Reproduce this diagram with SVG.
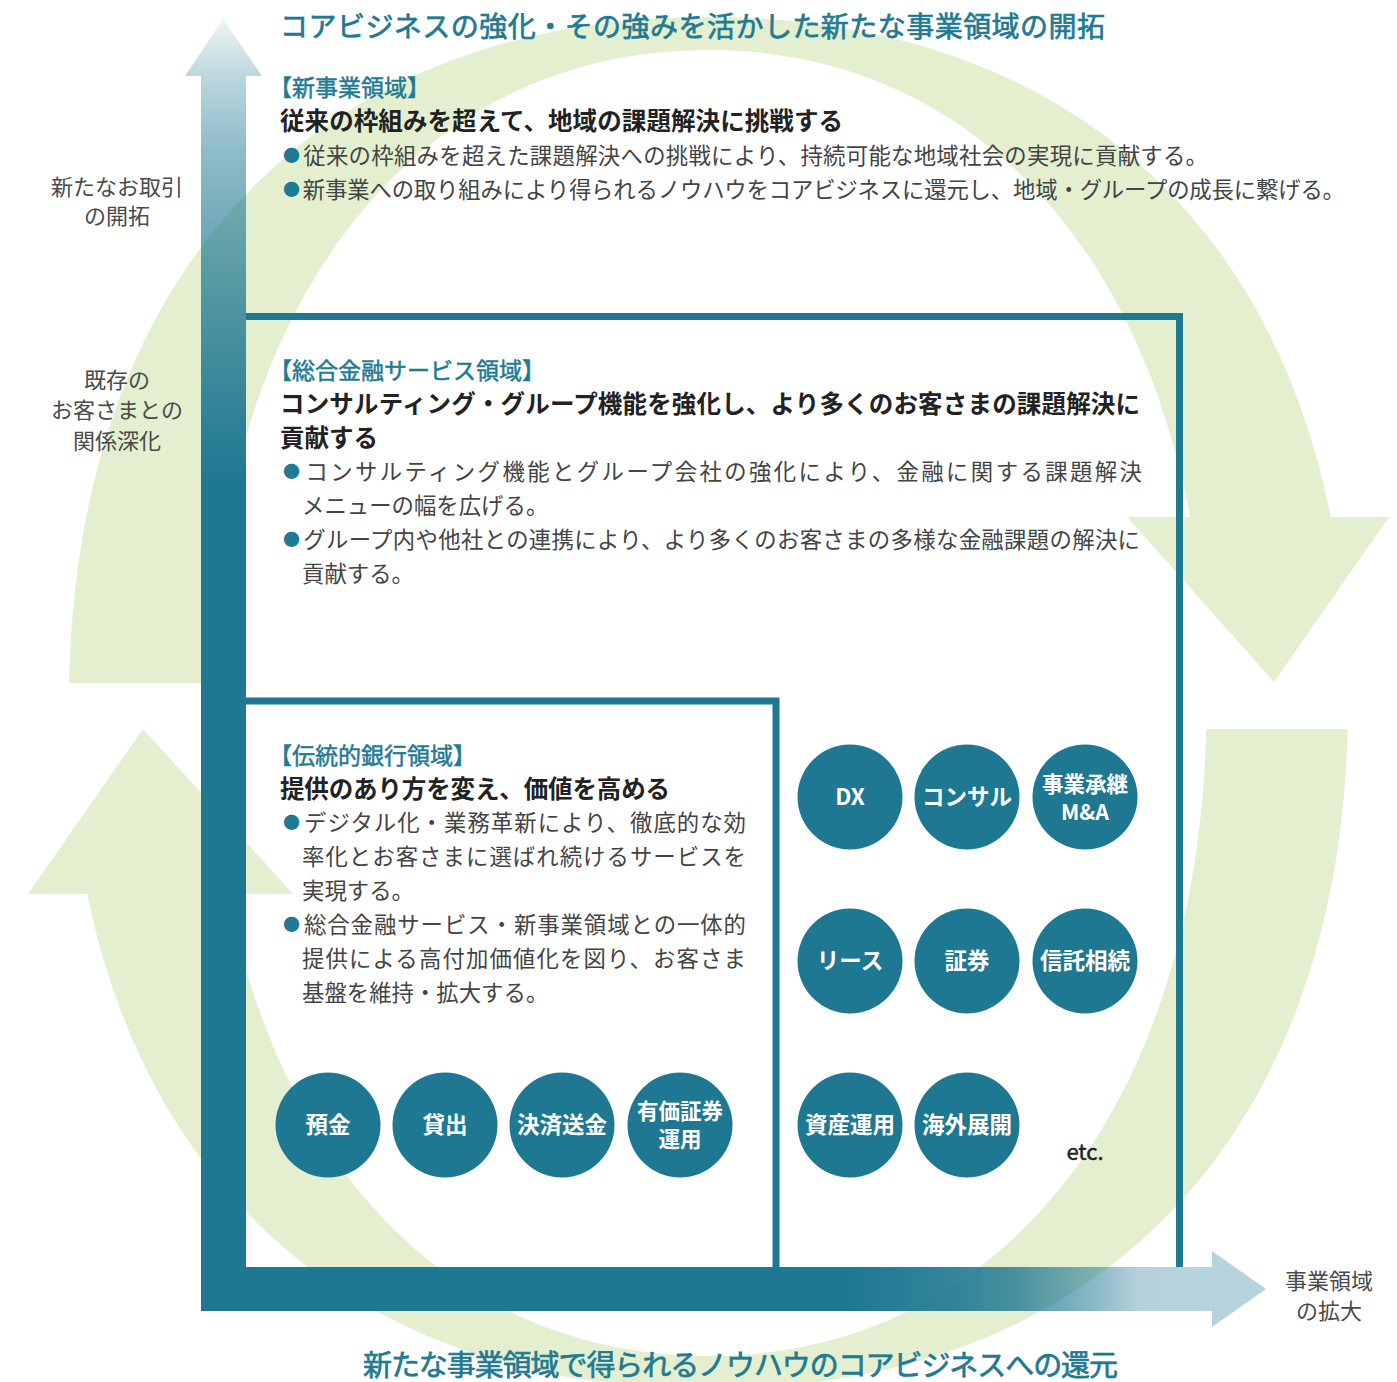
<svg xmlns="http://www.w3.org/2000/svg" width="1397" height="1382" viewBox="0 0 1397 1382">
<defs>
<style>
.t{font-family:"Noto Sans CJK JP","Noto Sans",sans-serif}
.body{font-size:22.4px;fill:#444}
.head{font-size:24.5px;font-weight:700;fill:#222}
.sec{font-size:23px;fill:#1f7a93;stroke:#1f7a93;stroke-width:0.5}
.ttl{fill:#1f7a93;stroke:#1f7a93;stroke-width:0.7}
.bul{fill:#1f7a93;font-size:17px}
.lab{font-size:22px;fill:#4a4a4a;text-anchor:middle}
.cl{font-size:22.5px;font-weight:700;fill:#fff;text-anchor:middle}
.cl2{font-size:21.5px;font-weight:700;fill:#fff;text-anchor:middle}
.node circle{fill:#1f7892}
.green{fill:#e3efcf}
.frame{fill:none;stroke:#1f7892;stroke-width:7}
</style>
<clipPath id="clipTop"><polygon points="0,0 1397,0 1397,517 708,517 708,683 0,683"/></clipPath>
<clipPath id="clipBot"><polygon points="0,894 708,894 708,729 1397,729 1397,1382 0,1382"/></clipPath>
<path id="ring" fill-rule="evenodd" d="M1348,703 C1348,1128.3 1105,1389 708.5,1389 C312,1389 69,1128.3 69,703 C69,277.7 312,17 708.5,17 C1105,17 1348,277.7 1348,703 Z M1206.5,703 C1206.5,1094.8 1007.3,1356 708.5,1356 C409.7,1356 210.5,1094.8 210.5,703 C210.5,311.2 409.7,50 708.5,50 C1007.3,50 1206.5,311.2 1206.5,703 Z"/>
<linearGradient id="gv" gradientUnits="userSpaceOnUse" x1="0" y1="19" x2="0" y2="480">
<stop offset="0" stop-color="#1f7892" stop-opacity="0.08"/>
<stop offset="0.124" stop-color="#1f7892" stop-opacity="0.3"/>
<stop offset="0.284" stop-color="#1f7892" stop-opacity="0.5"/>
<stop offset="0.61" stop-color="#1f7892" stop-opacity="0.75"/>
<stop offset="1" stop-color="#1f7892" stop-opacity="1"/>
</linearGradient>
<linearGradient id="gh" gradientUnits="userSpaceOnUse" x1="246" y1="0" x2="1266" y2="0">
<stop offset="0" stop-color="#1f7892" stop-opacity="1"/>
<stop offset="0.592" stop-color="#1f7892" stop-opacity="1"/>
<stop offset="0.7" stop-color="#1f7892" stop-opacity="0.9"/>
<stop offset="0.752" stop-color="#1f7892" stop-opacity="0.8"/>
<stop offset="0.837" stop-color="#1f7892" stop-opacity="0.5"/>
<stop offset="0.876" stop-color="#1f7892" stop-opacity="0.33"/>
<stop offset="1" stop-color="#1f7892" stop-opacity="0.32"/>
</linearGradient>
</defs>
<rect width="1397" height="1382" fill="#fff"/>

<g id="connectors">
  <g id="cycle-top" class="green">
    <use href="#ring" clip-path="url(#clipTop)"/>
    <polygon points="1127,517 1389,517 1274,682"/>
  </g>
  <g id="cycle-bottom" class="green">
    <use href="#ring" clip-path="url(#clipBot)"/>
    <polygon points="28,894 293,894 143,729"/>
  </g>
  <g id="axis-vertical">
    <polygon fill="url(#gv)" points="201,1311 201,76 185,76 223,19 262,76 246,76 246,1311"/>
  </g>
  <g id="axis-horizontal">
    <polygon fill="url(#gh)" points="246,1267 1212,1267 1212,1251 1266,1289 1212,1327 1212,1311 246,1311"/>
  </g>
</g>

<g id="frame-financial"><path class="frame" d="M246,316.5 H1179.5 V1267"/></g>
<g id="frame-traditional"><path class="frame" d="M246,701 H776 V1267"/></g>

<g id="title-top" class="t">
  <text class="ttl" x="280" y="36.6" font-size="28" textLength="825" lengthAdjust="spacing">コアビジネスの強化・その強みを活かした新たな事業領域の開拓</text>
</g>
<g id="title-bottom" class="t">
  <text class="ttl" x="363" y="1376" font-size="29" textLength="755" lengthAdjust="spacing">新たな事業領域で得られるノウハウのコアビジネスへの還元</text>
</g>

<g id="label-new-customers" class="t">
  <text class="lab" x="117" y="195.4">新たなお取引</text>
  <text class="lab" x="117" y="224.4">の開拓</text>
</g>
<g id="label-existing" class="t">
  <text class="lab" x="117" y="388.4">既存の</text>
  <text class="lab" x="117" y="418.4">お客さまとの</text>
  <text class="lab" x="117" y="449.4">関係深化</text>
</g>
<g id="label-expand" class="t">
  <text class="lab" x="1329" y="1289.4">事業領域</text>
  <text class="lab" x="1329" y="1319.4">の拡大</text>
</g>

<g id="new-business" class="t">
  <text class="sec" x="269" y="95.7">【新事業領域】</text>
  <text class="head" x="280" y="130" textLength="563" lengthAdjust="spacing">従来の枠組みを超えて、地域の課題解決に挑戦する</text>
  <text class="body" x="283" y="163.5" textLength="925" lengthAdjust="spacing"><tspan class="bul" dy="-2">●</tspan><tspan dx="3" dy="2">従来の枠組みを超えた課題解決への挑戦により、持続可能な地域社会の実現に貢献する。</tspan></text>
  <text class="body" x="283" y="197.5" textLength="1062" lengthAdjust="spacing"><tspan class="bul" dy="-2">●</tspan><tspan dx="3" dy="2">新事業への取り組みにより得られるノウハウをコアビジネスに還元し、地域・グループの成長に繋げる。</tspan></text>
</g>

<g id="financial-services" class="t">
  <text class="sec" x="269" y="378.7">【総合金融サービス領域】</text>
  <text class="head" x="280" y="413.3" textLength="860" lengthAdjust="spacing">コンサルティング・グループ機能を強化し、より多くのお客さまの課題解決に</text>
  <text class="head" x="280" y="447.3">貢献する</text>
  <text class="body" x="283" y="479.5" textLength="859" lengthAdjust="spacing"><tspan class="bul" dy="-2">●</tspan><tspan dx="3" dy="2">コンサルティング機能とグループ会社の強化により、金融に関する課題解決</tspan></text>
  <text class="body" x="302" y="513.5">メニューの幅を広げる。</text>
  <text class="body" x="283" y="547.5" textLength="857" lengthAdjust="spacing"><tspan class="bul" dy="-2">●</tspan><tspan dx="3" dy="2">グループ内や他社との連携により、より多くのお客さまの多様な金融課題の解決に</tspan></text>
  <text class="body" x="302" y="581.5">貢献する。</text>
</g>

<g id="traditional-banking" class="t">
  <text class="sec" x="269" y="763.7">【伝統的銀行領域】</text>
  <text class="head" x="280" y="798.3" textLength="390" lengthAdjust="spacing">提供のあり方を変え、価値を高める</text>
  <text class="body" x="283" y="830.5" textLength="463" lengthAdjust="spacing"><tspan class="bul" dy="-2">●</tspan><tspan dx="3" dy="2">デジタル化・業務革新により、徹底的な効</tspan></text>
  <text class="body" x="302" y="864.5" textLength="444" lengthAdjust="spacing">率化とお客さまに選ばれ続けるサービスを</text>
  <text class="body" x="302" y="898.5">実現する。</text>
  <text class="body" x="283" y="932.5" textLength="463" lengthAdjust="spacing"><tspan class="bul" dy="-2">●</tspan><tspan dx="3" dy="2">総合金融サービス・新事業領域との一体的</tspan></text>
  <text class="body" x="302" y="966.5" textLength="444" lengthAdjust="spacing">提供による高付加価値化を図り、お客さま</text>
  <text class="body" x="302" y="1000.5">基盤を維持・拡大する。</text>
</g>

<g id="node-deposit" class="node t"><circle cx="328" cy="1125" r="52.5"/><text class="cl" x="328" y="1133">預金</text></g>
<g id="node-loan" class="node t"><circle cx="445" cy="1125" r="52.5"/><text class="cl" x="445" y="1133">貸出</text></g>
<g id="node-settlement" class="node t"><circle cx="562" cy="1125" r="52.5"/><text class="cl" x="562" y="1133">決済送金</text></g>
<g id="node-securities-investment" class="node t"><circle cx="680" cy="1125" r="52.5"/><text class="cl2" x="680" y="1119">有価証券</text><text class="cl2" x="680" y="1147">運用</text></g>

<g id="node-dx" class="node t"><circle cx="850" cy="797" r="52.5"/><text class="cl" x="850" y="805">DX</text></g>
<g id="node-consulting" class="node t"><circle cx="967" cy="797" r="52.5"/><text class="cl" x="967" y="805">コンサル</text></g>
<g id="node-succession" class="node t"><circle cx="1085" cy="797" r="52.5"/><text class="cl2" x="1085" y="792">事業承継</text><text class="cl2" x="1085" y="820">M&amp;A</text></g>
<g id="node-lease" class="node t"><circle cx="850" cy="961" r="52.5"/><text class="cl" x="850" y="969">リース</text></g>
<g id="node-securities" class="node t"><circle cx="967" cy="961" r="52.5"/><text class="cl" x="967" y="969">証券</text></g>
<g id="node-trust" class="node t"><circle cx="1085" cy="961" r="52.5"/><text class="cl" x="1085" y="969">信託相続</text></g>
<g id="node-asset" class="node t"><circle cx="850" cy="1125" r="52.5"/><text class="cl" x="850" y="1133">資産運用</text></g>
<g id="node-overseas" class="node t"><circle cx="967" cy="1125" r="52.5"/><text class="cl" x="967" y="1133">海外展開</text></g>
<g id="etc" class="t"><text x="1085" y="1160" font-size="22" fill="#222" stroke="#222" stroke-width="0.5" text-anchor="middle">etc.</text></g>
</svg>
